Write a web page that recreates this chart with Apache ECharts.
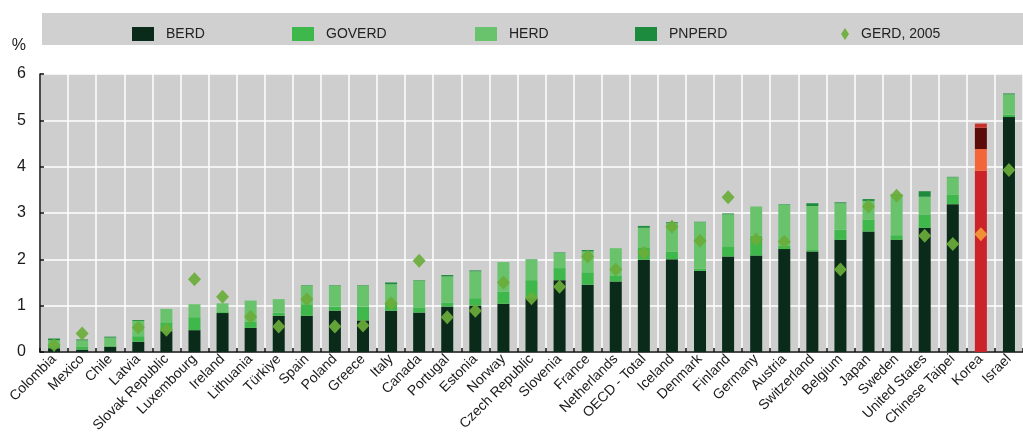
<!DOCTYPE html>
<html>
<head>
<meta charset="utf-8">
<script src="https://cdn.jsdelivr.net/npm/echarts@6/dist/echarts.min.js"></script>
<style>
html,body{margin:0;padding:0;background:#fff;}
#chart{width:1023px;height:435px;}
</style>
</head>
<body>
<div id="chart"></div>
<script>
var categories = ["Colombia","Mexico","Chile","Latvia","Slovak Republic","Luxembourg","Ireland","Lithuania","Türkiye","Spain","Poland","Greece","Italy","Canada","Portugal","Estonia","Norway","Czech Republic","Slovenia","France","Netherlands","OECD - Total","Iceland","Denmark","Finland","Germany","Austria","Switzerland","Belgium","Japan","Sweden","United States","Chinese Taipei","Korea","Israel"];
var berd   = [0.08,0.05,0.11,0.22,0.45,0.47,0.84,0.52,0.78,0.78,0.89,0.68,0.89,0.85,0.98,1.00,1.04,1.16,1.55,1.45,1.52,1.99,2.00,1.75,2.06,2.08,2.22,2.17,2.42,2.60,2.42,2.68,3.19,3.91,5.07];
var goverd = [0.05,0.07,0.03,0.12,0.19,0.28,0.02,0.13,0.07,0.25,0.09,0.30,0.19,0.10,0.08,0.16,0.26,0.39,0.26,0.27,0.12,0.27,0.17,0.05,0.22,0.43,0.08,0.03,0.22,0.26,0.10,0.29,0.20,0.47,0.05];
var herd   = [0.12,0.13,0.17,0.33,0.29,0.28,0.19,0.46,0.29,0.40,0.45,0.45,0.38,0.59,0.57,0.58,0.64,0.44,0.33,0.45,0.60,0.42,0.61,1.00,0.69,0.63,0.88,0.95,0.57,0.40,0.87,0.38,0.38,0.46,0.44];
var pnperd = [0.04,0.02,0.02,0.02,0,0,0,0,0,0.01,0.01,0.01,0.04,0.01,0.03,0.02,0,0.01,0.01,0.03,0,0.04,0.02,0.01,0.02,0,0.01,0.06,0.02,0.04,0.01,0.12,0.01,0.09,0.02];
var gerd2005 = [0.15,0.40,null,0.53,0.48,1.57,1.19,0.76,0.55,1.14,0.55,0.57,1.05,1.97,0.75,0.89,1.50,1.16,1.41,2.06,1.78,2.14,2.70,2.40,3.34,2.43,2.38,null,1.78,3.14,3.37,2.51,2.33,2.54,3.93];
var yTicks = [0,1,2,3,4,5,6];

var highlight = "Korea";
var greenColors = {BERD:"#0a2a1a", GOVERD:"#3fb84b", HERD:"#68c36c", PNPERD:"#1d8b3d", GERD:"#6aac3a"};
var redColors   = {BERD:"#cc2229", GOVERD:"#f4663a", HERD:"#5c0b0b", PNPERD:"#c8302c", GERD:"#f59a3a"};

function build(values, key){
  return values.map(function(v, i){
    if (categories[i] === highlight) {
      return {value: v, itemStyle: {color: redColors[key]}};
    }
    return v;
  });
}

var chart = echarts.init(document.getElementById('chart'), null, {renderer:'canvas'});
var font = "Arial, 'Liberation Sans', sans-serif";

function legendAt(name, left, icon, w, h){
  return {
    data: [{name: name, icon: icon}],
    left: left, top: 22,
    itemWidth: w, itemHeight: h,
    textStyle: {fontSize: 14, color: '#222', fontFamily: font, padding: [0,0,0,7]},
    selectedMode: false
  };
}

var option = {
  backgroundColor: '#ffffff',
  animation: false,
  graphic: [{
    type: 'rect', left: 42, top: 13, z: -10,
    shape: {width: 981, height: 32},
    style: {fill: '#d0d0d0'}
  }],
  legend: [
    legendAt('BERD', 127, 'rect', 22, 14),
    legendAt('GOVERD', 287, 'rect', 22, 14),
    legendAt('HERD', 470, 'rect', 22, 14),
    legendAt('PNPERD', 630, 'rect', 22, 14),
    legendAt('GERD, 2005', 836, 'diamond', 8, 12)
  ],
  grid: {
    left: 40, top: 74, width: 986, height: 278,
    show: true, backgroundColor: '#cecece', borderWidth: 0
  },
  xAxis: {
    type: 'category',
    data: categories,
    boundaryGap: true,
    axisLine: {show: true, lineStyle: {color: '#111', width: 1.5}},
    axisTick: {show: true, inside: true, length: 4, alignWithLabel: false, lineStyle: {color: '#111', width: 1.5}},
    splitLine: {show: true, interval: 0, lineStyle: {color: '#ffffff', width: 1.5}},
    axisLabel: {interval: 0, rotate: 45, fontSize: 14, color: '#1a1a1a', fontFamily: font, margin: 5}
  },
  yAxis: {
    type: 'value',
    min: yTicks[0], max: yTicks[yTicks.length-1], interval: 1,
    name: '%',
    nameLocation: 'end',
    nameGap: 20,
    nameTextStyle: {fontSize: 16, color: '#1a1a1a', fontFamily: font, align: 'right', padding: [0, 14, 0, 0]},
    axisLine: {show: true, lineStyle: {color: '#111', width: 1.5}},
    axisTick: {show: true, inside: true, length: 4, lineStyle: {color: '#111', width: 1.5}},
    splitLine: {show: true, lineStyle: {color: '#ffffff', width: 1.5}},
    axisLabel: {fontSize: 16, color: '#1a1a1a', fontFamily: font, margin: 14}
  },
  series: [
    {name: 'BERD', type: 'bar', stack: 'total', barWidth: 12, data: build(berd, 'BERD'), itemStyle: {color: greenColors.BERD}},
    {name: 'GOVERD', type: 'bar', stack: 'total', barWidth: 12, data: build(goverd, 'GOVERD'), itemStyle: {color: greenColors.GOVERD}},
    {name: 'HERD', type: 'bar', stack: 'total', barWidth: 12, data: build(herd, 'HERD'), itemStyle: {color: greenColors.HERD}},
    {name: 'PNPERD', type: 'bar', stack: 'total', barWidth: 12, data: build(pnperd, 'PNPERD'), itemStyle: {color: greenColors.PNPERD}},
    {name: 'GERD, 2005', type: 'scatter', symbol: 'diamond', symbolSize: [13, 14], z: 5,
     data: build(gerd2005, 'GERD'), itemStyle: {color: greenColors.GERD, opacity: 0.92}}
  ]
};
chart.setOption(option);
</script>
</body>
</html>
